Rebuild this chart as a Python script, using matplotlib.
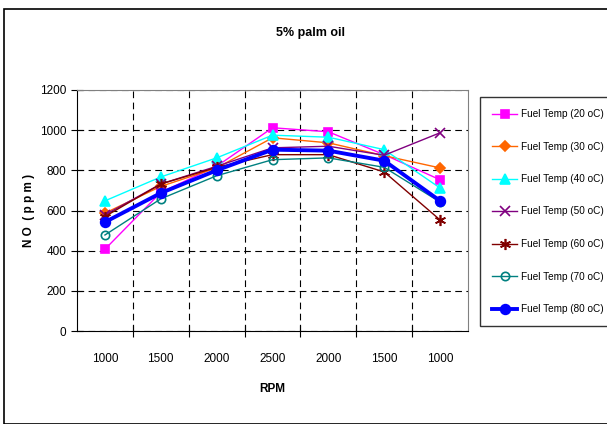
import matplotlib
matplotlib.use("Agg")
import matplotlib.pyplot as plt
from matplotlib.patches import Rectangle

plt.rcParams['font.family'] = ['Liberation Sans', 'DejaVu Sans']

categories = ['1000', '1500', '2000', '2500', '2000', '1500', '1000']
labels = ['Fuel Temp (20 oC)', 'Fuel Temp (30 oC)', 'Fuel Temp (40 oC)', 'Fuel Temp (50 oC)',
          'Fuel Temp (60 oC)', 'Fuel Temp (70 oC)', 'Fuel Temp (80 oC)']
t20 = [407, 690, 820, 1012, 992, 878, 753]
t30 = [587, 720, 812, 962, 937, 873, 812]
t40 = [648, 767, 862, 975, 965, 903, 712]
t50 = [578, 732, 820, 912, 920, 875, 987]
t60 = [570, 732, 815, 878, 878, 792, 553]
t70 = [478, 658, 773, 853, 862, 815, 642]
t80 = [542, 687, 800, 903, 898, 848, 648]
series = [t20, t30, t40, t50, t60, t70, t80]
colors = ['#FF00FF', '#FF6600', '#00FFFF', '#800080', '#800000', '#008080', '#0000FF']
markers = ['s', 'D', '^', 'x', (6, 2, 0), 'o', 'o']
msizes = [6, 5, 7, 7, 8, 6, 7]
lws = [1, 1, 1, 1, 1, 1, 2.8]

fig = plt.figure(figsize=(6.07, 4.24), dpi=100)
fig.patches.append(Rectangle((4/607, 0.0), 1.0, (424-9)/424, transform=fig.transFigure,
                             fill=False, edgecolor='black', linewidth=1.2))
ax = fig.add_axes([77/607, (424-331)/424, 391/607, 241/424])
x = list(range(len(categories)))
for s, c, m, ms, lw, lab in zip(series, colors, markers, msizes, lws, labels):
    mfc = 'none' if lab.endswith('(70 oC)') else c
    ax.plot(x, s, color=c, marker=m, markersize=ms, linewidth=lw, label=lab,
            markerfacecolor=mfc, markeredgecolor=c, markeredgewidth=1.2)

ax.set_xlim(-0.5, 6.5)
ax.set_ylim(0, 1200)
ax.set_yticks(range(0, 1201, 200))
ax.set_xticks([i - 0.5 for i in range(1, 7)], minor=False)
ax.set_xticklabels([])
ax.set_xticks(x, minor=True)
ax.set_xticklabels(categories, minor=True)
ax.tick_params(axis='x', which='minor', length=0, pad=16, labelsize=8.5)
ax.tick_params(axis='x', which='major', direction='inout', length=8)
ax.tick_params(axis='y', direction='inout', length=8, labelsize=8.5)
ax.grid(True, which='major', color='black', linestyle=(0, (6, 4)), linewidth=0.8)
for sp in ['top', 'right']:
    ax.spines[sp].set_color('#808080')
ax.set_xlabel('RPM', fontsize=8.5, fontweight='bold', labelpad=13)
ax.set_ylabel('N O  ( p p m )', fontsize=8.5, fontweight='bold', labelpad=4)
fig.text(310/607, 1 - 33/424, '5% palm oil', ha='center', va='center', fontsize=9, fontweight='bold')

leg = fig.legend(loc='upper left', bbox_to_anchor=(480/607, 1 - 97/424), frameon=True,
                 fancybox=False, edgecolor='black', fontsize=7.2, labelspacing=2.25,
                 handlelength=2.5, handletextpad=0.4, borderpad=1.2, borderaxespad=0)
leg.get_frame().set_linewidth(1)

fig.savefig('out.png', dpi=100)
